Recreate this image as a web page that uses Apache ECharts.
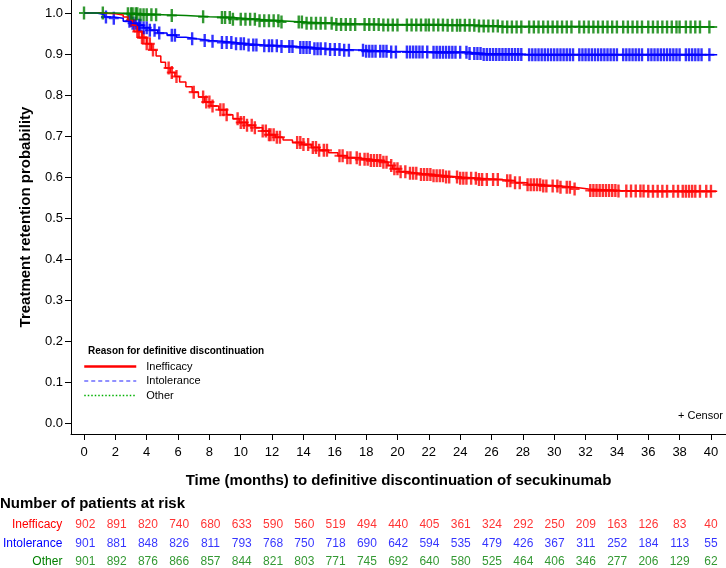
<!DOCTYPE html>
<html>
<head>
<meta charset="utf-8">
<script src="https://cdn.jsdelivr.net/npm/echarts@6/dist/echarts.min.js"></script>
<style>
  html, body { margin: 0; padding: 0; background: #fff; }
  #chart { width: 726px; height: 568px; }
</style>
</head>
<body>
<div id="chart"></div>
<script>
// axis ticks
var xTicks = [0, 2, 4, 6, 8, 10, 12, 14, 16, 18, 20, 22, 24, 26, 28, 30, 32, 34, 36, 38, 40];
var yTicks = [0, 0.1, 0.2, 0.3, 0.4, 0.5, 0.6, 0.7, 0.8, 0.9, 1.0];

// Kaplan-Meier steps (months, retention probability)
var ineffT = [0, 1.0, 2.0, 2.5, 2.8, 3.1, 3.4, 3.7, 4.0, 4.3, 4.6, 4.9, 5.2, 5.5, 5.8, 6.1, 6.5, 6.9, 7.3, 7.7, 8.1, 8.6, 9.1, 9.5, 9.9, 10.4, 10.9, 11.4, 11.8, 12.2, 12.7, 13.3, 13.9, 14.5, 15.0, 15.6, 16.2, 16.8, 17.5, 18.3, 19.0, 19.4, 19.7, 20.1, 20.6, 21.3, 22.2, 23.0, 24.0, 25.2, 26.5, 27.5, 28.3, 29.2, 30.4, 31.3, 32.2, 34.0, 36.0, 40.4];
var ineffS = [1.0, 0.998, 0.995, 0.99, 0.982, 0.97, 0.955, 0.94, 0.925, 0.91, 0.895, 0.88, 0.866, 0.855, 0.845, 0.832, 0.82, 0.807, 0.795, 0.783, 0.773, 0.764, 0.752, 0.742, 0.733, 0.726, 0.72, 0.712, 0.703, 0.697, 0.69, 0.684, 0.679, 0.672, 0.665, 0.659, 0.652, 0.647, 0.643, 0.64, 0.636, 0.628, 0.62, 0.613, 0.609, 0.606, 0.603, 0.6, 0.597, 0.594, 0.591, 0.586, 0.581, 0.578, 0.575, 0.571, 0.567, 0.566, 0.565, 0.565];

var intolT = [0, 0.8, 1.3, 1.9, 2.5, 3.0, 3.4, 3.8, 4.2, 4.7, 5.3, 5.9, 6.5, 7.2, 8.0, 8.8, 9.6, 10.5, 11.5, 12.5, 13.5, 14.5, 15.5, 16.5, 18.0, 19.5, 22.0, 24.5, 25.5, 28.0, 40.4];
var intolS = [1.0, 0.996, 0.99, 0.987, 0.98, 0.975, 0.97, 0.964, 0.958, 0.951, 0.946, 0.941, 0.937, 0.933, 0.931, 0.928, 0.925, 0.922, 0.92, 0.918, 0.916, 0.913, 0.911, 0.909, 0.907, 0.905, 0.904, 0.901, 0.899, 0.898, 0.898];

var otherT = [0, 2.0, 3.5, 5.0, 6.5, 8.0, 9.5, 11.0, 12.5, 14.0, 16.0, 19.0, 23.0, 25.0, 26.5, 40.4];
var otherS = [1.0, 0.998, 0.996, 0.994, 0.991, 0.989, 0.985, 0.981, 0.978, 0.975, 0.972, 0.971, 0.97, 0.968, 0.966, 0.966];

// censoring times (months)
var ineffCensor = [3.0, 3.2, 3.4, 3.5, 3.7, 3.8, 4.0, 4.2, 4.4, 5.4, 5.6, 5.9, 7.0, 7.6, 7.8, 8.0, 8.2, 8.7, 8.9, 9.1,
  9.8, 10.0, 10.2, 10.4, 10.7, 10.9, 11.4, 11.6, 11.8, 11.9, 12.1, 12.3, 12.5,
  13.6, 13.8, 14.0, 14.3, 14.6, 14.8, 15.0, 15.3, 15.5, 16.3, 16.5, 16.8, 17.0, 17.4, 17.6, 17.9, 18.1, 18.3, 18.5, 18.7, 18.9, 19.1, 19.3,
  19.6, 19.8, 20.0, 20.2, 20.5, 20.8, 21.0, 21.2, 21.5, 21.7, 21.9, 22.1, 22.3, 22.5, 22.7, 22.9, 23.1, 23.3, 23.8, 24.0, 24.2, 24.4, 24.7, 25.0, 25.2, 25.4, 25.7,
  26.1, 26.4, 27.0, 27.2, 27.5, 27.8, 28.3, 28.5, 28.7, 28.9, 29.1, 29.3, 29.5, 29.9, 30.2, 30.4, 30.8, 31.0, 31.3,
  32.3, 32.5, 32.7, 32.9, 33.1, 33.3, 33.5, 33.7, 33.9, 34.1, 34.6, 34.9, 35.2, 35.5, 35.7, 36.0, 36.3, 36.6, 36.9, 37.2, 37.6, 37.9, 38.2, 38.4, 38.6, 38.8, 39.0, 39.3, 39.7, 40.0];
var intolCensor = [1.4, 1.9, 2.9, 3.1, 3.3, 3.5, 3.6, 3.8, 4.0, 4.2, 4.5, 4.8, 5.6, 5.8, 6.9, 7.7, 8.2, 8.8, 9.1, 9.4, 9.7, 10.0, 10.2, 10.5, 10.8, 11.0,
  11.5, 11.8, 12.0, 12.3, 12.6, 13.1, 13.3, 13.8, 14.0, 14.2, 14.4, 14.7, 14.9, 15.1, 15.4, 15.7, 16.0, 16.3, 16.6, 16.9,
  17.8, 18.0, 18.2, 18.4, 18.6, 18.9, 19.1, 19.3, 19.6, 19.9, 20.6, 20.8, 21.0, 21.2, 21.4, 21.6, 21.9, 22.3, 22.5, 22.7, 22.9, 23.1, 23.3, 23.5, 23.7, 24.0, 24.4, 24.6, 24.9, 25.1, 25.3,
  25.5, 25.7, 25.9, 26.1, 26.3, 26.5, 26.7, 26.9, 27.1, 27.3, 27.5, 27.7, 27.9, 28.4, 28.6, 28.8, 29.0, 29.2, 29.4, 29.6, 29.8, 30.0, 30.2, 30.4, 30.6, 30.8, 31.0, 31.2,
  31.6, 31.8, 32.0, 32.2, 32.4, 32.6, 32.8, 33.0, 33.2, 33.4, 33.6, 33.8, 34.0, 34.4, 34.6, 34.8, 35.0, 35.2, 35.4, 35.6, 36.0, 36.2, 36.4, 36.6, 36.8, 37.0, 37.2, 37.4, 37.6, 37.8, 38.0,
  38.4, 38.6, 38.8, 39.0, 39.2, 39.4, 39.9];
var otherCensor = [0.0, 1.2, 2.8, 3.0, 3.1, 3.3, 3.4, 3.6, 3.8, 4.0, 4.3, 4.6, 5.6, 7.6, 8.8, 9.0, 9.3, 9.5, 10.0, 10.3, 10.6, 10.9, 11.2, 11.5, 11.8, 12.1, 12.4, 12.6,
  13.7, 13.9, 14.2, 14.5, 14.8, 15.1, 15.4, 15.8, 16.1, 16.4, 16.7, 17.0, 17.3, 17.9, 18.2, 18.5, 18.8, 19.1, 19.4, 19.7, 20.0,
  20.6, 20.9, 21.2, 21.5, 21.8, 22.0, 22.3, 22.6, 22.9, 23.2, 23.5, 23.8, 24.0, 24.3, 24.6, 24.9, 25.2,
  25.5, 25.8, 26.1, 26.4, 26.7, 27.0, 27.3, 27.6, 27.9, 28.4, 28.7, 29.0, 29.3, 29.6, 29.9, 30.2, 30.5, 30.8, 31.1,
  31.6, 31.9, 32.2, 32.5, 32.8, 33.1, 33.4, 33.7, 34.0, 34.4, 34.7, 35.0, 35.3, 35.6, 36.0, 36.3, 36.6, 36.9, 37.2, 37.5, 37.8, 38.0,
  38.4, 38.7, 39.0, 39.3, 39.9];

// number of patients at risk
var riskTimes = xTicks;
var riskRows = ['Inefficacy', 'Intolerance', 'Other'];
var riskIneff = [902, 891, 820, 740, 680, 633, 590, 560, 519, 494, 440, 405, 361, 324, 292, 250, 209, 163, 126, 83, 40];
var riskIntol = [901, 881, 848, 826, 811, 793, 768, 750, 718, 690, 642, 594, 535, 479, 426, 367, 311, 252, 184, 113, 55];
var riskOther = [901, 892, 876, 866, 857, 844, 821, 803, 771, 745, 692, 640, 580, 525, 464, 406, 346, 277, 206, 129, 62];

var colors = {Inefficacy: '#ff0000', Intolerance: '#0000ff', Other: '#008000'};
var FONT = 'Liberation Sans';
var PLUS = 'path://M3.8,0H6.2V10H3.8Z M0,4.2H10V5.8H0Z';

function steps(ts, ss) {
  return ts.map(function (t, i) { return [t, ss[i]]; });
}
function survAt(ts, ss, t) {
  var v = ss[0];
  for (var i = 0; i < ts.length; i++) { if (ts[i] <= t) v = ss[i]; }
  return v;
}
function censorPts(cs, ts, ss) {
  return cs.map(function (c) { return [c, survAt(ts, ss, c)]; });
}
function lineSeries(name, ts, ss) {
  return {
    name: name, type: 'line', step: 'end', symbol: 'none', silent: true,
    data: steps(ts, ss), xAxisIndex: 0, yAxisIndex: 0, z: 3,
    lineStyle: {color: colors[name], width: 1.5}, itemStyle: {color: colors[name]}
  };
}
function censorSeries(name, cs, ts, ss) {
  return {
    name: name + ' censor', type: 'scatter', symbol: PLUS, symbolSize: [10, 13], silent: true,
    data: censorPts(cs, ts, ss), xAxisIndex: 0, yAxisIndex: 0, z: 2,
    itemStyle: {color: colors[name], opacity: 0.8}
  };
}
function riskSeries(name, vals) {
  return {
    name: name + ' risk', type: 'scatter', symbolSize: 1, silent: true,
    xAxisIndex: 1, yAxisIndex: 1,
    itemStyle: {color: 'transparent'},
    label: {show: true, position: 'inside', color: colors[name], fontFamily: FONT, fontSize: 12,
      formatter: function (p) { return p.value[2]; }},
    data: riskTimes.map(function (t, i) { return [t, name, vals[i]]; })
  };
}

var chart = echarts.init(document.getElementById('chart'));
chart.setOption({
  animation: false,
  textStyle: {fontFamily: FONT},
  title: {
    text: 'Number of patients at risk', left: 0, top: 496, padding: 0,
    textStyle: {fontFamily: FONT, fontSize: 15, fontWeight: 'bold', color: '#000'}
  },
  legend: {
    data: [
      {name: 'Inefficacy', lineStyle: {width: 2.5, type: 'solid', color: '#ff0000'}},
      {name: 'Intolerance', lineStyle: {width: 1.2, type: [4, 3], color: '#2222ff'}},
      {name: 'Other', lineStyle: {width: 1.5, type: [1.5, 2], color: '#00b000'}}
    ],
    orient: 'vertical', left: 83, top: 361, padding: 0,
    itemWidth: 52, itemHeight: 12, itemGap: 3.5,
    itemStyle: {color: 'transparent', borderWidth: 0, opacity: 0},
    textStyle: {fontFamily: FONT, fontSize: 11, color: '#000', padding: [0, 0, 0, 5]}
  },
  graphic: [
    {type: 'text', left: 88, top: 346,
      style: {text: 'Reason for definitive discontinuation', font: 'bold 10px "Liberation Sans"', fill: '#000'}},
    {type: 'text', right: 3, top: 410,
      style: {text: '+ Censor', font: '11px "Liberation Sans"', fill: '#000'}}
  ],
  grid: [
    {left: 71, right: 0, top: 0, height: 434},
    {left: 71, right: 0, top: 525, height: 42}
  ],
  xAxis: [{
    type: 'value', gridIndex: 0, min: -0.83, max: 40.96,
    name: 'Time (months) to definitive discontinuation of secukinumab',
    nameLocation: 'middle', nameGap: 39,
    nameTextStyle: {fontFamily: FONT, fontSize: 15, fontWeight: 'bold', color: '#000'},
    axisLine: {show: true, onZero: false, lineStyle: {color: '#000', width: 1}},
    axisTick: {show: true, length: 6, customValues: xTicks, lineStyle: {color: '#000'}},
    axisLabel: {customValues: xTicks, margin: 12, fontSize: 13, color: '#000', fontFamily: FONT},
    splitLine: {show: false}
  }, {
    type: 'value', gridIndex: 1, min: -0.83, max: 40.96, show: false
  }],
  yAxis: [{
    type: 'value', gridIndex: 0, min: -0.0268, max: 1.0317,
    name: 'Treatment retention probability',
    nameLocation: 'middle', nameGap: 38, nameRotate: 90,
    nameTextStyle: {fontFamily: FONT, fontSize: 15, fontWeight: 'bold', color: '#000'},
    axisLine: {show: true, onZero: false, lineStyle: {color: '#000', width: 1}},
    axisTick: {show: true, length: 6, customValues: yTicks, lineStyle: {color: '#000'}},
    axisLabel: {customValues: yTicks, margin: 8, fontSize: 13, color: '#000', fontFamily: FONT,
      formatter: function (v) { return v.toFixed(1); }},
    splitLine: {show: false}
  }, {
    type: 'category', gridIndex: 1, inverse: true, boundaryGap: false, data: riskRows,
    axisLine: {show: false}, axisTick: {show: false}, splitLine: {show: false},
    axisLabel: {margin: 10, fontSize: 12, fontFamily: FONT,
      color: function (v) { return colors[v]; }}
  }],
  series: [
    censorSeries('Inefficacy', ineffCensor, ineffT, ineffS),
    censorSeries('Intolerance', intolCensor, intolT, intolS),
    censorSeries('Other', otherCensor, otherT, otherS),
    lineSeries('Inefficacy', ineffT, ineffS),
    lineSeries('Intolerance', intolT, intolS),
    lineSeries('Other', otherT, otherS),
    riskSeries('Inefficacy', riskIneff),
    riskSeries('Intolerance', riskIntol),
    riskSeries('Other', riskOther)
  ]
});
</script>
</body>
</html>
